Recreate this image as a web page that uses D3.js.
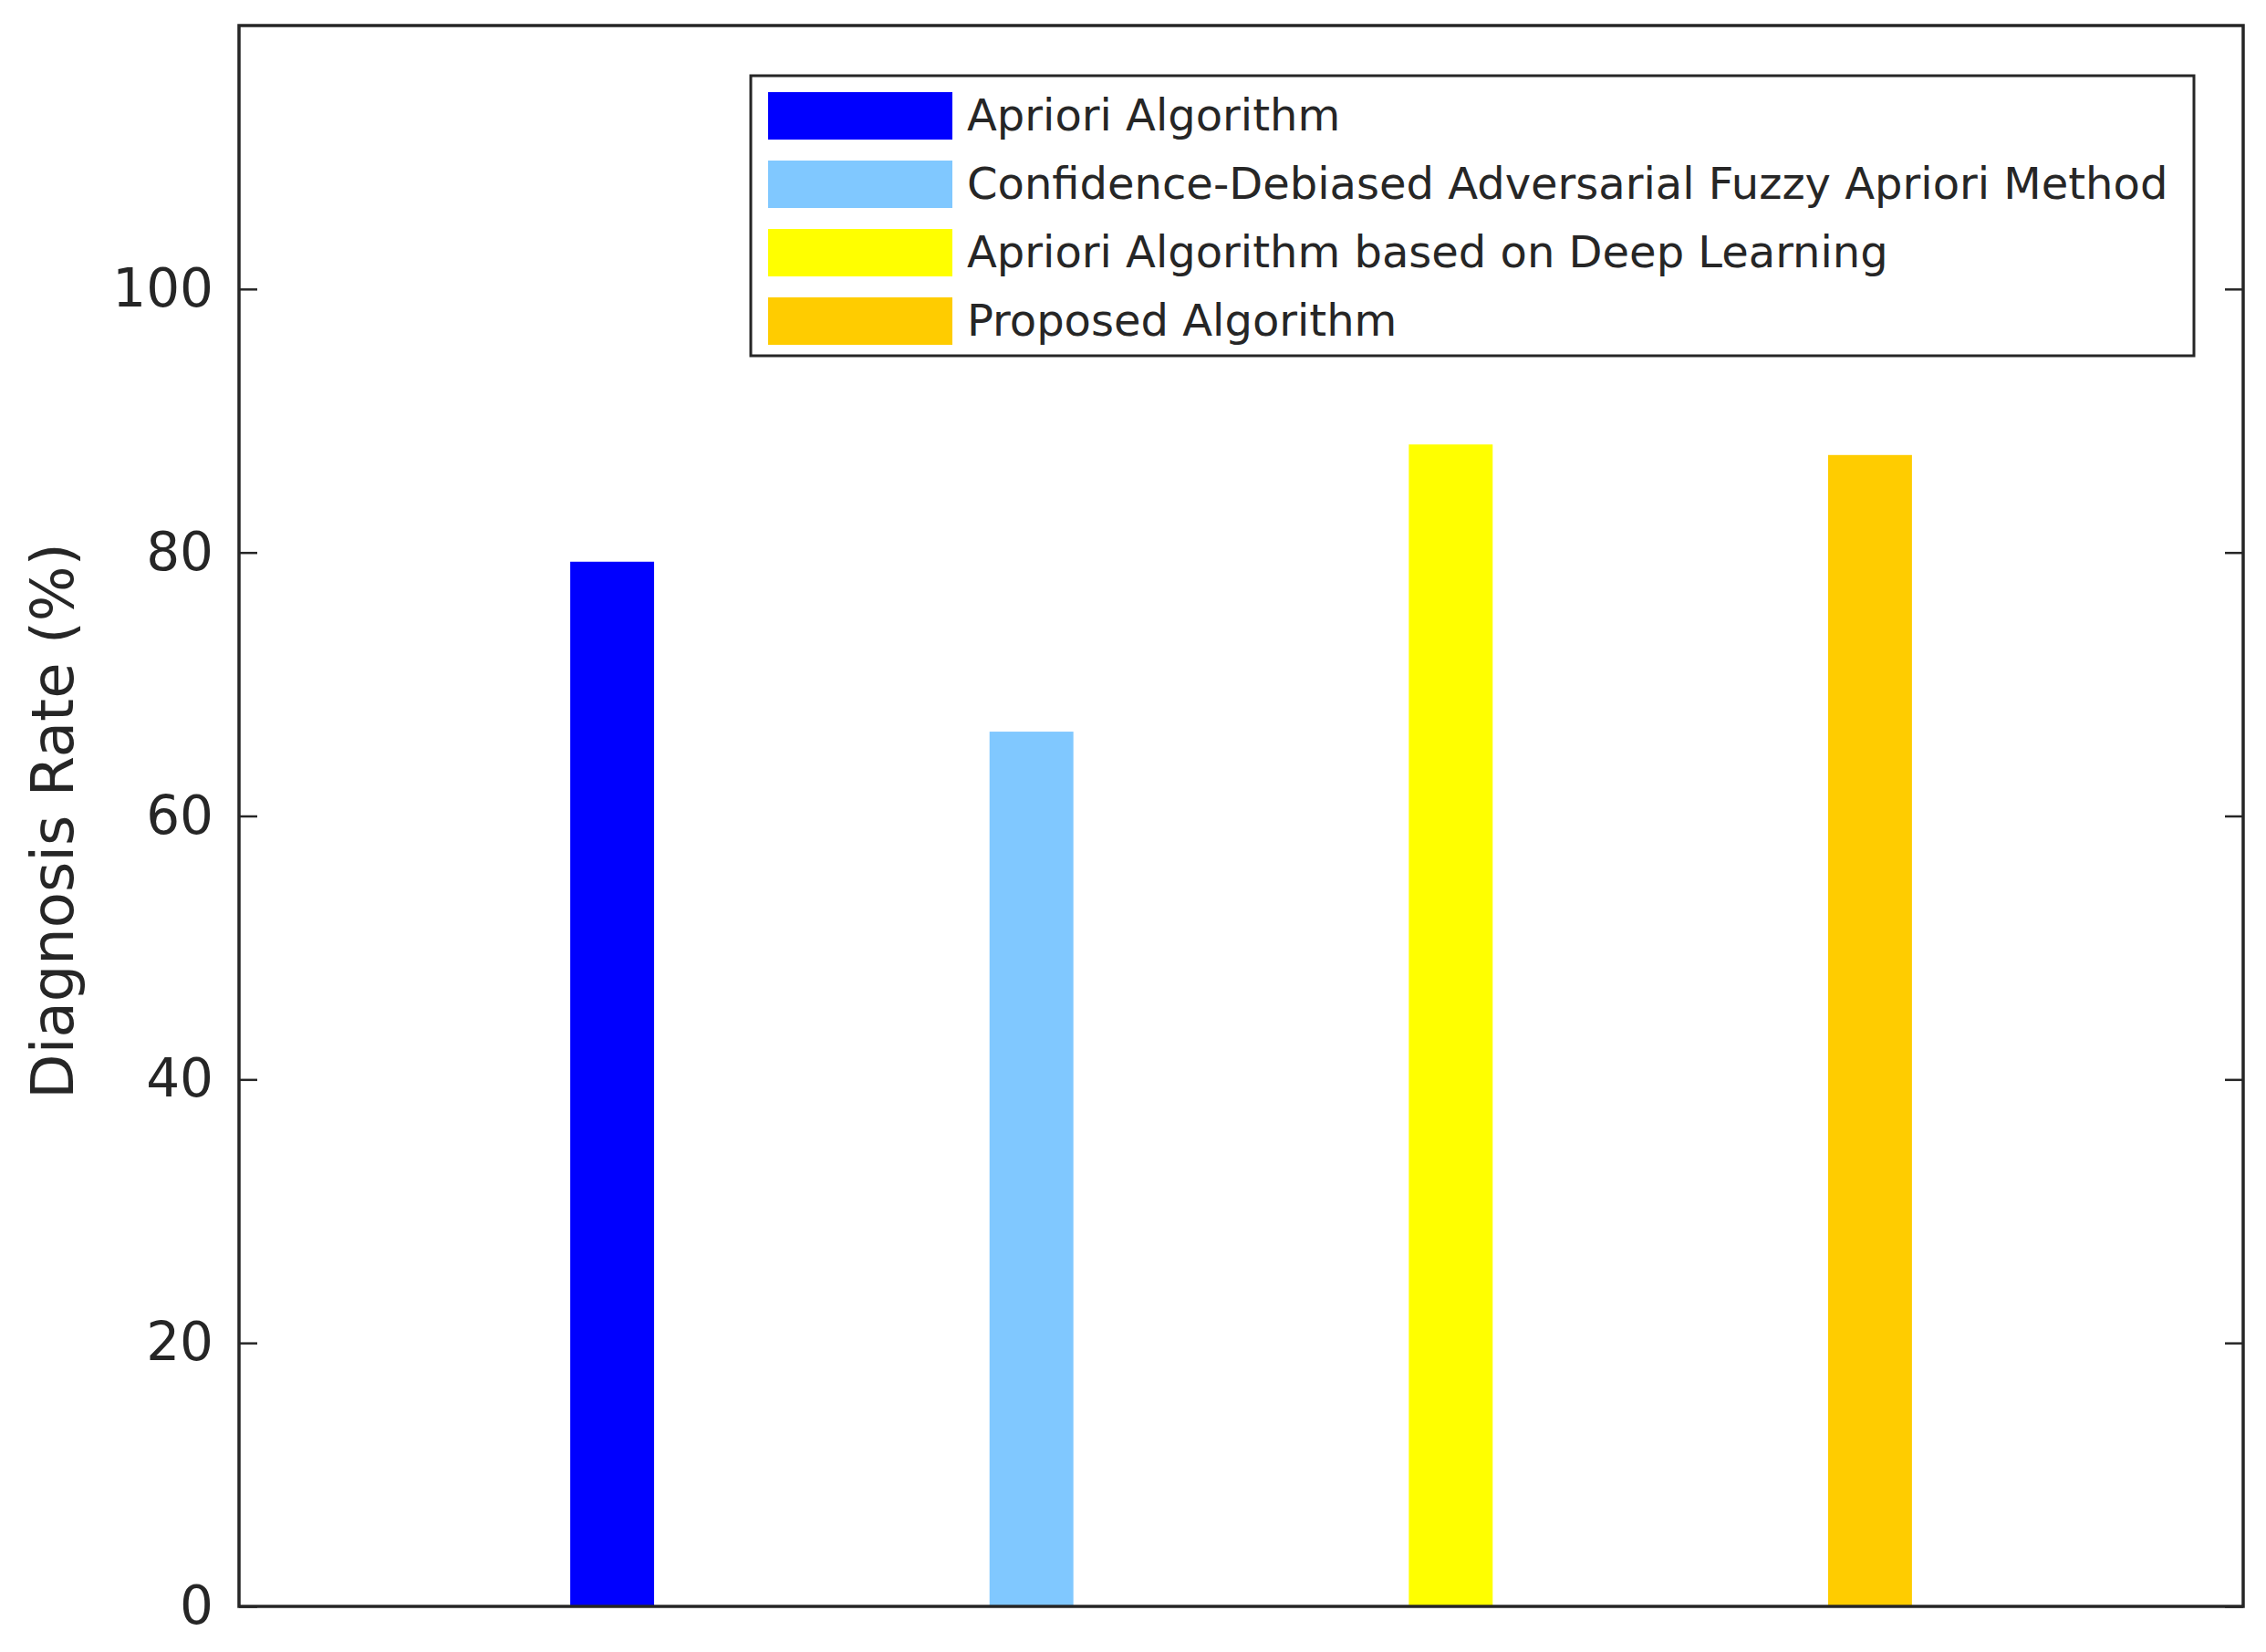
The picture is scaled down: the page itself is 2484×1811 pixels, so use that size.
<!DOCTYPE html>
<html><head><meta charset="utf-8">
<script src="https://cdn.jsdelivr.net/npm/d3@7"></script>
<style>body{margin:0;background:#fff}</style></head>
<body><svg id="c" width="2484" height="1811"></svg>
<script>
const categories = ["Apriori Algorithm", "Confidence-Debiased Adversarial Fuzzy Apriori Method",
  "Apriori Algorithm based on Deep Learning", "Proposed Algorithm"];
const values = [79.3, 66.4, 88.2, 87.4];
const colors = ["#0000ff", "#80c8ff", "#ffff00", "#ffcc00"];
const yTicks = [0, 20, 40, 60, 80, 100];

const margin = {left: 262, top: 28, right: 25, bottom: 50};
const W = 2484 - margin.left - margin.right, H = 1811 - margin.top - margin.bottom;
const svg = d3.select("#c");
const g = svg.append("g").attr("transform", `translate(${margin.left},${margin.top})`);

const x = d3.scaleLinear().domain([0.11, 4.89]).range([0, W]);
const y = d3.scaleLinear().domain([0, 120]).range([H, 0]);
const bw = x(1.2) - x(1);

g.selectAll("rect.bar").data(values).enter().append("rect")
  .attr("x", (d, i) => x(i + 1) - bw / 2)
  .attr("y", d => y(d))
  .attr("width", bw).attr("height", d => H - y(d))
  .attr("fill", (d, i) => colors[i]);

const font = "'DejaVu Sans', sans-serif";
const yl = g.append("g").call(d3.axisLeft(y).tickValues(yTicks).tickSizeInner(-20).tickSizeOuter(0).tickPadding(28));
const yr = g.append("g").attr("transform", `translate(${W},0)`)
  .call(d3.axisRight(y).tickValues(yTicks).tickSizeInner(-20).tickSizeOuter(0).tickFormat(""));
[yl, yr].forEach(a => { a.select(".domain").remove(); a.selectAll("line").attr("stroke", "#262626").attr("stroke-width", 2.5); });
yl.selectAll("text").attr("font-size", 58).attr("font-family", font).attr("fill", "#262626");

g.append("rect").attr("width", W).attr("height", H).attr("fill", "none")
  .attr("stroke", "#262626").attr("stroke-width", 3.5);

svg.append("text").attr("transform", "translate(80,900) rotate(-90)")
  .attr("text-anchor", "middle").attr("font-size", 64).attr("font-family", font)
  .attr("fill", "#262626").text("Diagnosis Rate (%)");

// legend
const lg = svg.append("g");
lg.append("rect").attr("x", 823).attr("y", 83).attr("width", 1582).attr("height", 307)
  .attr("fill", "#fff").attr("stroke", "#262626").attr("stroke-width", 3);
categories.forEach((c, i) => {
  const cy = 127 + i * 75;
  lg.append("rect").attr("x", 842).attr("y", cy - 26).attr("width", 202).attr("height", 52).attr("fill", colors[i]);
  lg.append("text").attr("x", 1060).attr("y", cy + 16).attr("font-size", 48).attr("font-family", font)
    .attr("fill", "#262626").text(c);
});
</script></body></html>
